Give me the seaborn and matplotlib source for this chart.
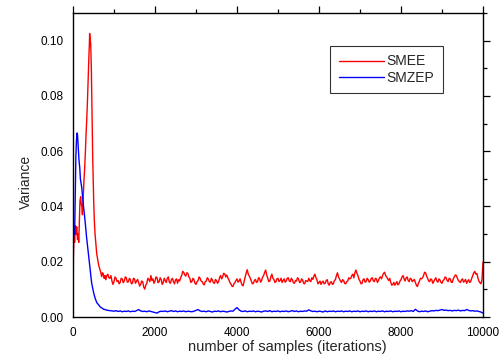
import numpy as np
import pandas as pd
import seaborn as sns
import matplotlib
matplotlib.use("Agg")
import matplotlib.pyplot as plt
from matplotlib.ticker import MultipleLocator, FormatStrFormatter

# ---------------- data ----------------
red_x_early = [0, 10, 25, 40, 60, 75, 90, 110, 125, 140, 155, 170, 187, 200, 215,
               230, 250, 268, 285, 300, 318, 334, 350, 366, 380, 390, 400, 406,
               415, 431, 447, 463, 480, 504, 520, 537, 560, 578, 600, 618, 640,
               659, 680, 700, 720, 740, 760, 780]
red_y_early = [0.0, 0.022, 0.030, 0.027, 0.033, 0.030, 0.0326, 0.028, 0.030, 0.027,
               0.035, 0.042, 0.0435, 0.041, 0.040, 0.037, 0.044, 0.0495, 0.054,
               0.059, 0.066, 0.071, 0.077, 0.0845, 0.090, 0.0953, 0.099, 0.1026,
               0.101, 0.099, 0.0905, 0.0748, 0.058, 0.0423, 0.035, 0.0302, 0.026,
               0.023, 0.021, 0.0194, 0.018, 0.017, 0.016, 0.0146, 0.016, 0.0155,
               0.014, 0.015]

blue_x_early = [0, 10, 25, 40, 55, 70, 85, 100, 110, 125, 146, 165, 180, 212, 250,
                293, 330, 374, 410, 455, 500, 537, 580, 620, 660, 700, 750]
blue_y_early = [0.0, 0.028, 0.032, 0.030, 0.045, 0.058, 0.064, 0.0666, 0.066, 0.062,
                0.0568, 0.054, 0.050, 0.047, 0.041, 0.035, 0.029, 0.023, 0.018,
                0.0123, 0.0090, 0.0069, 0.0052, 0.0045, 0.0037, 0.0033, 0.0028]

# tail samples every 50 iterations from 800 to 10000
tail_x = list(range(800, 10001, 50))
# extra red samples in between (825, 875, ..., 9975)
tail_x_mid = list(range(825, 10000, 50))

red_y_tail = [
    0.0135, 0.0155, 0.0140, 0.0130,
    0.0128, 0.0140, 0.0132, 0.0125, 0.0138, 0.0130, 0.0142, 0.0127, 0.0135, 0.0122,
    0.0138, 0.0130, 0.0125, 0.0118, 0.0128, 0.0101, 0.0122, 0.0135, 0.0150, 0.0138,
    0.0130, 0.0142, 0.0128, 0.0136, 0.0124, 0.0132, 0.0140, 0.0126, 0.0135, 0.0128,
    0.0134, 0.0122, 0.0130, 0.0150, 0.0162, 0.0148, 0.0158, 0.0140, 0.0128, 0.0135,
    0.0118, 0.0132, 0.0140, 0.0128, 0.0116, 0.0130, 0.0138, 0.0126, 0.0134, 0.0122,
    0.0132, 0.0128, 0.0150, 0.0145, 0.0156, 0.0152, 0.0135, 0.0120, 0.0110, 0.0125,
    0.0138, 0.0130, 0.0125, 0.0113, 0.0145, 0.0171, 0.0148, 0.0130, 0.0122, 0.0136,
    0.0128, 0.0140, 0.0132, 0.0150, 0.0170, 0.0140, 0.0130, 0.0155, 0.0136, 0.0128,
    0.0140, 0.0132, 0.0125, 0.0138, 0.0130, 0.0142, 0.0128, 0.0135, 0.0122, 0.0130,
    0.0138, 0.0126, 0.0134, 0.0120, 0.0130, 0.0140, 0.0128, 0.0136, 0.0155, 0.0135,
    0.0125, 0.0118, 0.0130, 0.0122, 0.0135, 0.0115, 0.0128, 0.0120, 0.0135, 0.0160,
    0.0138, 0.0125, 0.0132, 0.0120, 0.0130, 0.0138, 0.0150, 0.0142, 0.0170, 0.0150,
    0.0130, 0.0122, 0.0138, 0.0128, 0.0135, 0.0130, 0.0142, 0.0128, 0.0138, 0.0132,
    0.0145, 0.0150, 0.0162, 0.0145, 0.0132, 0.0125, 0.0118, 0.0115, 0.0128, 0.0120,
    0.0135, 0.0150, 0.0130, 0.0145, 0.0128, 0.0138, 0.0132, 0.0125, 0.0110, 0.0130,
    0.0138, 0.0150, 0.0160, 0.0140, 0.0128, 0.0135, 0.0128, 0.0142, 0.0126, 0.0134,
    0.0122, 0.0135, 0.0142, 0.0128, 0.0138, 0.0125, 0.0145, 0.0150, 0.0132, 0.0125,
    0.0138, 0.0130, 0.0122, 0.0135, 0.0128, 0.0150, 0.0165, 0.0158, 0.0130, 0.0120,
    0.0199]

red_y_tail_mid = [
    0.0150, 0.0142, 0.0150, 0.0118,
    0.0145, 0.0128, 0.0120, 0.0140, 0.0124, 0.0145, 0.0126, 0.0140, 0.0120, 0.0140,
    0.0122, 0.0136, 0.0112, 0.0130, 0.0108, 0.0115, 0.0140, 0.0128, 0.0132, 0.0122,
    0.0145, 0.0124, 0.0142, 0.0118, 0.0140, 0.0125, 0.0145, 0.0122, 0.0140, 0.0120,
    0.0138, 0.0135, 0.0142, 0.0165, 0.0152, 0.0160, 0.0145, 0.0125, 0.0140, 0.0122,
    0.0128, 0.0145, 0.0130, 0.0120, 0.0128, 0.0142, 0.0128, 0.0140, 0.0124, 0.0136,
    0.0122, 0.0142, 0.0138, 0.0158, 0.0145, 0.0142, 0.0125, 0.0112, 0.0120, 0.0132,
    0.0126, 0.0138, 0.0115, 0.0130, 0.0160, 0.0155, 0.0140, 0.0120, 0.0132, 0.0125,
    0.0142, 0.0126, 0.0145, 0.0162, 0.0152, 0.0128, 0.0145, 0.0140, 0.0125, 0.0138,
    0.0128, 0.0140, 0.0132, 0.0126, 0.0140, 0.0130, 0.0140, 0.0124, 0.0132, 0.0142,
    0.0125, 0.0138, 0.0122, 0.0132, 0.0128, 0.0132, 0.0142, 0.0148, 0.0142, 0.0120,
    0.0130, 0.0126, 0.0120, 0.0132, 0.0120, 0.0125, 0.0118, 0.0132, 0.0150, 0.0145,
    0.0130, 0.0135, 0.0122, 0.0128, 0.0142, 0.0140, 0.0155, 0.0160, 0.0158, 0.0136,
    0.0120, 0.0135, 0.0126, 0.0140, 0.0126, 0.0140, 0.0130, 0.0140, 0.0125, 0.0142,
    0.0138, 0.0158, 0.0150, 0.0138, 0.0140, 0.0115, 0.0125, 0.0122, 0.0116, 0.0130,
    0.0145, 0.0138, 0.0142, 0.0132, 0.0140, 0.0128, 0.0136, 0.0115, 0.0122, 0.0140,
    0.0142, 0.0162, 0.0148, 0.0130, 0.0138, 0.0122, 0.0136, 0.0130, 0.0138, 0.0125,
    0.0132, 0.0145, 0.0132, 0.0140, 0.0126, 0.0138, 0.0152, 0.0140, 0.0128, 0.0134,
    0.0126, 0.0136, 0.0130, 0.0125, 0.0140, 0.0160, 0.0155, 0.0142, 0.0124, 0.0135]

blue_y_tail = [
    0.0026, 0.0024, 0.0023, 0.0022,
    0.0021, 0.0023, 0.0020, 0.0022, 0.0019, 0.0021, 0.0020, 0.0022, 0.0019, 0.0021,
    0.0020, 0.0023, 0.0027, 0.0022, 0.0020, 0.0021, 0.0019, 0.0022, 0.0020, 0.0018,
    0.0016, 0.0014, 0.0019, 0.0021, 0.0020, 0.0022, 0.0019, 0.0021, 0.0023, 0.0020,
    0.0022, 0.0019, 0.0021, 0.0020, 0.0022, 0.0019, 0.0021, 0.0020, 0.0019, 0.0021,
    0.0024, 0.0027, 0.0022, 0.0020, 0.0021, 0.0019, 0.0022, 0.0020, 0.0018, 0.0021,
    0.0020, 0.0022, 0.0019, 0.0021, 0.0020, 0.0018, 0.0020, 0.0022, 0.0021, 0.0028,
    0.0034, 0.0026, 0.0021, 0.0020, 0.0022, 0.0019, 0.0021, 0.0020, 0.0022, 0.0019,
    0.0021, 0.0020, 0.0018, 0.0021, 0.0022, 0.0020, 0.0023, 0.0019, 0.0021, 0.0020,
    0.0022, 0.0019, 0.0021, 0.0020, 0.0022, 0.0019, 0.0021, 0.0023, 0.0020, 0.0022,
    0.0019, 0.0021, 0.0020, 0.0022, 0.0021, 0.0026, 0.0022, 0.0020, 0.0021, 0.0019,
    0.0021, 0.0020, 0.0018, 0.0022, 0.0019, 0.0021, 0.0020, 0.0022, 0.0019, 0.0021,
    0.0020, 0.0022, 0.0019, 0.0021, 0.0020, 0.0022, 0.0019, 0.0021, 0.0020, 0.0022,
    0.0019, 0.0021, 0.0020, 0.0022, 0.0019, 0.0021, 0.0020, 0.0022, 0.0019, 0.0021,
    0.0020, 0.0022, 0.0019, 0.0021, 0.0020, 0.0022, 0.0019, 0.0021, 0.0020, 0.0022,
    0.0019, 0.0021, 0.0020, 0.0022, 0.0021, 0.0023, 0.0020, 0.0028, 0.0022, 0.0019,
    0.0021, 0.0020, 0.0022, 0.0019, 0.0021, 0.0023, 0.0022, 0.0024, 0.0023, 0.0025,
    0.0027, 0.0024, 0.0025, 0.0023, 0.0024, 0.0022, 0.0024, 0.0023, 0.0025, 0.0022,
    0.0024, 0.0023, 0.0027, 0.0024, 0.0022, 0.0023, 0.0021, 0.0022, 0.0020, 0.0018,
    0.0014]

series_names = ["SMEE", "SMZEP"]
series_colors = ["#ff0000", "#0000ff"]

# ---------------- build table ----------------
red_df = pd.DataFrame({"iter": red_x_early + tail_x + tail_x_mid,
                       "var": red_y_early + red_y_tail + red_y_tail_mid,
                       "method": series_names[0]}).sort_values("iter", kind="stable")
blue_df = pd.DataFrame({"iter": blue_x_early + tail_x,
                        "var": blue_y_early + blue_y_tail,
                        "method": series_names[1]})
df = pd.concat([red_df, blue_df], ignore_index=True)

sns.set_style("white")
plt.rcParams["font.family"] = ["Liberation Sans", "DejaVu Sans"]

fig = plt.figure(figsize=(4.99, 3.59), dpi=100)
ax = fig.add_axes([73 / 499, 42 / 359, 410 / 499, 304 / 359])

sns.lineplot(data=df, x="iter", y="var", hue="method", palette=series_colors,
             hue_order=series_names, sort=False, estimator=None, lw=1.0, ax=ax)

ax.set_xlim(0, 10000)
ax.set_ylim(0, 0.11)
ax.xaxis.set_major_locator(MultipleLocator(2000))
ax.xaxis.set_minor_locator(MultipleLocator(1000))
ax.yaxis.set_major_locator(MultipleLocator(0.02))
ax.yaxis.set_minor_locator(MultipleLocator(0.01))
ax.yaxis.set_major_formatter(FormatStrFormatter("%.2f"))

for s in ax.spines.values():
    s.set_visible(True)
    s.set_color("black")
    s.set_linewidth(1.0)

ax.tick_params(which="both", direction="out", top=True, right=True,
               labeltop=False, labelright=False, colors="black",
               labelsize=8.5, width=0.9)
ax.tick_params(which="major", length=5, pad=2)
ax.tick_params(which="minor", length=3)

ax.set_xlabel("number of samples (iterations)", fontsize=10.5)
ax.set_ylabel("Variance", fontsize=10)
ax.xaxis.set_label_coords(0.522, -0.076)
ax.yaxis.set_label_coords(-0.098, 0.444)

leg = ax.legend(loc="upper right", bbox_to_anchor=(0.902, 0.891),
                borderaxespad=0, frameon=True, fancybox=False, fontsize=10,
                handlelength=3.25, handletextpad=0.2, borderpad=0.6,
                labelspacing=0.15)
leg.get_frame().set_edgecolor("black")
leg.get_frame().set_linewidth(0.8)
for h in leg.get_lines():
    h.set_linewidth(1.0)

fig.savefig("out.png", dpi=100)
